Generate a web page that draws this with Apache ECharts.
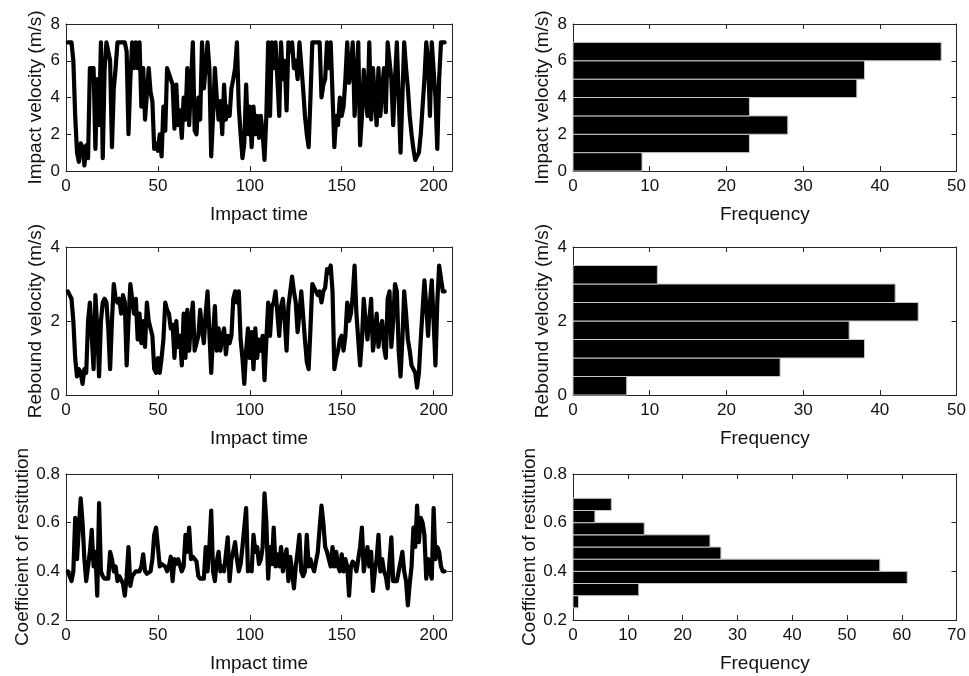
<!DOCTYPE html>
<html>
<head>
<meta charset="utf-8">
<script src="https://cdn.jsdelivr.net/npm/echarts@6/dist/echarts.min.js"></script>
<style>
  html, body { margin: 0; padding: 0; background: #ffffff; }
  #chart { width: 969px; height: 676px; }
</style>
</head>
<body>
<div id="chart"></div>
<script>
// Measured series, one value per impact (impact number 1..N)
const impactVelocity = [
  7.0,7.0,7.0,6.0,3.0,1.0,0.5,1.5,1.3,0.3,
  1.4,0.7,5.6,5.6,5.6,1.2,5.0,2.5,7.0,0.7,
  5.5,7.0,7.0,6.0,1.3,4.5,5.6,7.0,7.0,7.0,
  7.0,7.0,6.5,2.0,5.0,7.0,5.6,7.0,5.6,7.0,
  3.5,5.6,2.8,4.2,5.6,4.3,3.8,1.2,1.5,1.1,
  2.0,0.8,3.5,2.2,5.6,5.6,5.0,4.7,2.3,4.7,
  2.5,3.3,1.8,4.0,2.8,5.6,2.5,4.7,7.0,2.2,
  2.0,4.0,2.8,7.0,4.5,5.6,7.0,5.6,0.8,3.0,
  5.6,4.0,2.8,3.8,2.0,4.7,2.8,3.5,3.0,4.5,
  5.0,5.6,7.0,3.5,2.0,0.7,1.5,4.7,2.0,3.5,
  1.3,3.5,2.0,3.0,1.8,3.0,2.0,0.6,3.0,7.0,
  3.0,7.0,5.6,7.0,7.0,3.0,7.0,5.0,6.0,3.3,
  7.0,6.5,7.0,5.6,6.0,5.0,7.0,7.0,4.5,3.0,
  2.0,1.3,4.0,7.0,7.0,7.0,7.0,7.0,4.0,4.7,
  5.0,7.0,5.6,7.0,7.0,1.3,3.0,2.5,4.0,3.0,
  3.5,5.0,7.0,4.8,5.6,7.0,3.0,5.0,7.0,1.4,
  3.0,5.5,4.0,3.0,7.0,2.8,5.6,4.0,2.5,5.6,
  3.0,4.5,5.6,3.2,7.0,6.0,5.0,2.5,5.0,7.0,
  4.0,1.0,4.0,7.0,5.6,4.5,3.0,2.0,1.2,0.6,
  0.6,1.0,2.0,3.5,5.0,7.0,6.0,3.0,7.0,7.0,
  4.0,1.2,5.0,7.0,7.0,7.0
];

const reboundVelocity = [
  2.8,2.8,2.6,2.0,1.0,0.5,0.7,0.6,0.3,0.7,
  0.6,2.0,2.5,2.5,0.7,2.7,1.8,0.5,2.0,2.5,
  2.6,2.5,1.8,0.7,2.0,3.0,2.6,2.5,2.6,2.2,
  2.7,2.5,0.8,2.0,3.0,2.6,2.2,2.6,1.5,2.2,
  1.4,2.0,1.3,2.5,2.0,1.8,1.6,0.7,0.6,1.0,
  0.6,1.0,1.5,2.5,2.3,2.2,1.8,1.9,1.0,2.0,
  1.3,1.6,0.8,2.2,1.0,2.3,1.2,2.0,2.5,1.2,
  1.4,1.6,2.3,1.8,1.4,2.2,2.8,2.8,0.6,1.6,
  2.4,1.2,1.8,1.2,1.6,1.8,1.1,1.6,1.4,1.6,
  2.6,2.8,2.5,2.8,1.5,1.0,0.3,1.2,1.8,1.0,
  1.7,0.7,1.8,1.0,1.5,1.2,1.6,0.4,1.5,2.5,
  1.6,2.4,2.5,2.8,2.8,1.6,2.4,2.6,2.0,1.2,
  2.4,2.8,3.2,2.8,2.5,1.7,2.2,2.8,2.8,1.5,
  0.9,0.7,1.8,3.0,3.0,2.8,2.7,2.8,2.5,2.8,
  2.9,3.4,3.3,3.5,2.8,0.7,1.0,1.2,1.5,1.6,
  1.2,1.6,2.5,2.0,2.2,2.7,3.5,2.2,1.5,0.8,
  1.5,2.6,2.0,1.5,2.0,2.6,1.2,1.6,2.2,1.3,
  1.8,2.0,1.3,1.0,2.6,2.8,1.3,2.0,3.0,2.8,
  1.2,0.5,1.5,2.8,2.2,1.5,1.2,0.8,0.7,0.6,
  0.2,0.6,1.5,2.3,3.1,2.4,1.6,2.5,3.1,2.0,
  0.8,2.5,3.5,3.5,2.8,2.8
];

const restitution = [
  0.40,0.38,0.36,0.40,0.62,0.45,0.58,0.70,0.60,0.45,
  0.36,0.42,0.48,0.57,0.42,0.48,0.30,0.68,0.40,0.38,
  0.37,0.37,0.37,0.48,0.45,0.40,0.42,0.36,0.38,0.38,
  0.35,0.30,0.38,0.50,0.34,0.38,0.38,0.40,0.40,0.40,
  0.42,0.47,0.40,0.39,0.39,0.40,0.45,0.55,0.58,0.50,
  0.42,0.43,0.43,0.42,0.40,0.42,0.46,0.36,0.45,0.43,
  0.45,0.45,0.40,0.42,0.55,0.48,0.58,0.45,0.46,0.46,
  0.44,0.38,0.37,0.37,0.37,0.50,0.40,0.50,0.65,0.40,
  0.36,0.44,0.48,0.40,0.42,0.40,0.40,0.54,0.36,0.45,
  0.48,0.52,0.45,0.40,0.43,0.50,0.58,0.66,0.40,0.42,
  0.40,0.55,0.48,0.50,0.43,0.45,0.50,0.72,0.60,0.37,
  0.50,0.43,0.58,0.42,0.47,0.42,0.50,0.40,0.45,0.49,
  0.36,0.46,0.40,0.33,0.42,0.48,0.55,0.40,0.38,0.40,
  0.55,0.42,0.45,0.42,0.40,0.40,0.48,0.58,0.67,0.60,
  0.50,0.48,0.45,0.42,0.50,0.42,0.48,0.42,0.40,0.47,
  0.40,0.45,0.42,0.30,0.42,0.44,0.43,0.40,0.45,0.50,
  0.58,0.40,0.45,0.50,0.42,0.48,0.32,0.40,0.45,0.55,
  0.40,0.45,0.40,0.38,0.33,0.44,0.54,0.36,0.36,0.36,
  0.36,0.44,0.48,0.40,0.36,0.26,0.35,0.42,0.58,0.50,
  0.67,0.52,0.62,0.60,0.55,0.37,0.45,0.40,0.37,0.66,
  0.45,0.50,0.48,0.42,0.40,0.40
];

// Histogram bins (edges) and frequencies
const impactVelocityEdges = [0, 1, 2, 3, 4, 5, 6, 7];
const impactVelocityCounts = [9, 23, 28, 23, 37, 38, 48];
const reboundVelocityEdges = [0, 0.5, 1, 1.5, 2, 2.5, 3, 3.5];
const reboundVelocityCounts = [7, 27, 38, 36, 45, 42, 11];
const restitutionEdges = [0.25, 0.30, 0.35, 0.40, 0.45, 0.50, 0.55, 0.60, 0.65, 0.70];
const restitutionCounts = [1, 12, 61, 56, 27, 25, 13, 4, 7];

// Axis titles and tick settings
const timeLabel = 'Impact time';
const freqLabel = 'Frequency';
const rowLabels = ['Impact velocity (m/s)', 'Rebound velocity (m/s)', 'Coefficient of restitution'];
const rowRanges = [[0, 8, 2], [0, 4, 2], [0.2, 0.8, 0.2]];
const timeRange = [0, 210, 50];
const freqRanges = [[0, 50, 10], [0, 50, 10], [0, 70, 10]];

const rowSeries = [impactVelocity, reboundVelocity, restitution];
const rowEdges = [impactVelocityEdges, reboundVelocityEdges, restitutionEdges];
const rowCounts = [impactVelocityCounts, reboundVelocityCounts, restitutionCounts];

const FONT = '"Liberation Sans", Arial, Helvetica, sans-serif';
const AXIS_COLOR = '#262626';
const TEXT_COLOR = '#111111';

const rowTops = [24, 247, 474];
const rowHeights = [147, 148, 146];
const colLefts = [66, 573];
const colWidths = [386, 387];

const grids = [];
const xAxes = [];
const yAxes = [];
const series = [];

function axisBase(gridIndex, position, range, withLabels, fmt) {
  return {
    gridIndex: gridIndex,
    type: 'value',
    position: position,
    min: range[0],
    max: range[1],
    interval: range[2],
    axisLine: { show: true, onZero: false, lineStyle: { color: AXIS_COLOR, width: 1 } },
    axisTick: { show: true, inside: true, length: 5, lineStyle: { color: AXIS_COLOR, width: 1 } },
    splitLine: { show: false },
    axisLabel: withLabels ? {
      show: true, fontSize: 17, fontFamily: FONT, color: TEXT_COLOR,
      margin: 6, formatter: fmt
    } : { show: false },
    silent: true
  };
}

for (let r = 0; r < 3; r++) {
  for (let c = 0; c < 2; c++) {
    const g = grids.length;
    grids.push({
      left: colLefts[c], top: rowTops[r], width: colWidths[c], height: rowHeights[r],
      containLabel: false
    });
    const xRange = c === 0 ? timeRange : freqRanges[r];
    const yRange = rowRanges[r];
    const yFmt = r === 2 ? (v => v.toFixed(1)) : (v => String(Math.round(v)));

    const xb = axisBase(g, 'bottom', xRange, true, v => String(Math.round(v)));
    xb.axisLabel.margin = 7;
    if (c === 0) xb.axisLabel.showMaxLabel = false;
    xb.name = c === 0 ? timeLabel : freqLabel;
    xb.nameLocation = 'middle';
    xb.nameGap = 34;
    xb.nameTextStyle = { fontSize: 19, fontFamily: FONT, color: TEXT_COLOR };
    const xIdx = xAxes.length;
    xAxes.push(xb);
    xAxes.push(axisBase(g, 'top', xRange, false));

    const yl = axisBase(g, 'left', yRange, true, yFmt);
    yl.name = rowLabels[r];
    yl.nameLocation = 'middle';
    yl.nameGap = 21;
    yl.nameTextStyle = { fontSize: 19, fontFamily: FONT, color: TEXT_COLOR };
    const yIdx = yAxes.length;
    yAxes.push(yl);
    yAxes.push(axisBase(g, 'right', yRange, false));

    if (c === 0) {
      // time history line
      series.push({
        type: 'line',
        xAxisIndex: xIdx,
        yAxisIndex: yIdx,
        data: rowSeries[r].map((v, i) => [i + 1, v]),
        showSymbol: false,
        symbol: 'none',
        lineStyle: { color: '#000000', width: 4.2, join: 'round', cap: 'round' },
        silent: true,
        animation: false,
        z: 3
      });
    } else {
      // horizontal histogram: one rectangle per bin
      const edges = rowEdges[r];
      const counts = rowCounts[r];
      series.push({
        type: 'custom',
        xAxisIndex: xIdx,
        yAxisIndex: yIdx,
        data: counts.map((n, i) => [n, edges[i], edges[i + 1]]),
        encode: { x: 0, y: [1, 2] },
        renderItem: function (params, api) {
          const p0 = api.coord([0, api.value(1)]);
          const p1 = api.coord([api.value(0), api.value(2)]);
          return {
            type: 'rect',
            shape: { x: p0[0], y: p1[1], width: p1[0] - p0[0], height: p0[1] - p1[1] },
            style: { fill: '#000000', stroke: '#c8c8c8', lineWidth: 1 }
          };
        },
        silent: true,
        animation: false,
        z: 3
      });
    }
  }
}

const chart = echarts.init(document.getElementById('chart'), null, { renderer: 'canvas' });
chart.setOption({
  backgroundColor: '#ffffff',
  animation: false,
  grid: grids,
  xAxis: xAxes,
  yAxis: yAxes,
  series: series
});
</script>
</body>
</html>
